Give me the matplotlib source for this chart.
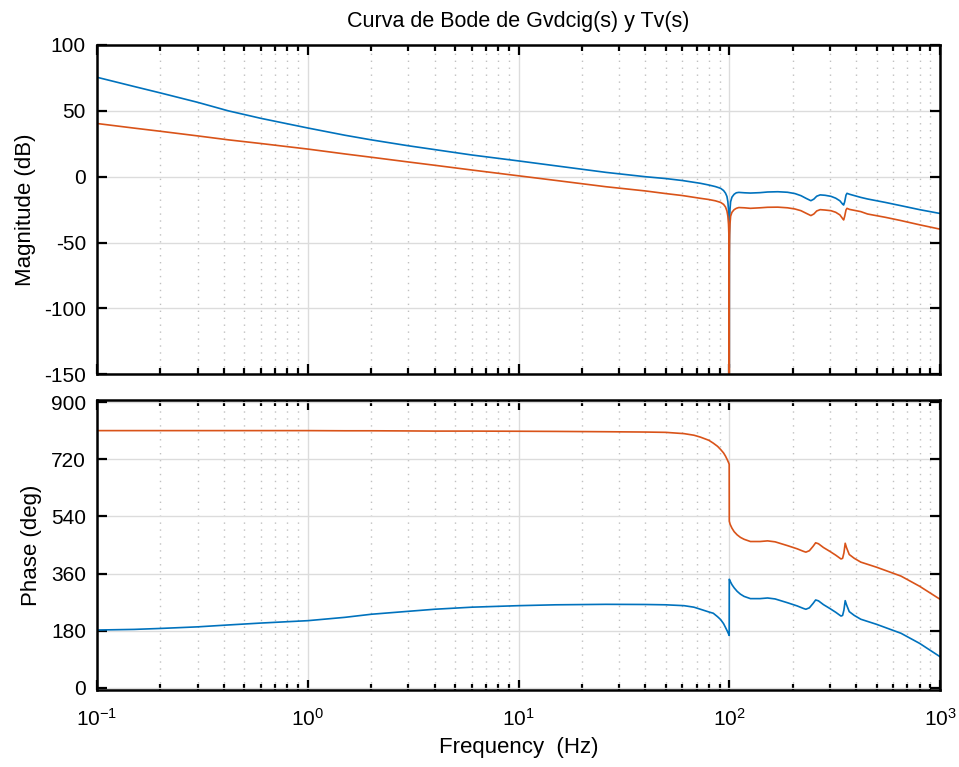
import matplotlib
matplotlib.use("Agg")
import matplotlib.pyplot as plt
import matplotlib.ticker as mticker

plt.rcParams['font.family'] = ['Liberation Sans', 'DejaVu Sans']
plt.rcParams['axes.unicode_minus'] = False

# magnitude (dB)
f_mag = [0.1, 0.15, 0.2, 0.3, 0.42, 0.6, 1, 1.5, 2, 3, 4, 6, 10, 15, 26, 40, 50, 60, 73, 80,
         86, 91, 94, 96, 97.5, 98.5, 99.2, 99.6, 99.85, 100, 100.15, 100.4, 100.8, 101.5, 103,
         105.5, 108, 111, 118, 126, 140, 152, 170, 189, 205, 219, 232, 244, 252, 260, 270,
         285, 304, 320, 335, 345, 349, 353, 358, 362, 372, 421, 453, 550, 653, 800, 1000]
gvd_mag = [75.5, 68.5, 63.6, 56.5, 50, 44.3, 37, 31.5, 28, 23.5, 20.6, 16.5, 12, 8.3, 3.3, 0,
           -1.4, -2.9, -5, -6.3, -7.5, -8.8, -10.5, -12.5, -15, -19, -25, -33, -48, -145, -48,
           -33, -25, -19, -15.5, -13.3, -12.2, -11.9, -12.2, -12.4, -12.1, -11.6, -11.4, -11.8,
           -12.8, -14.4, -16.5, -18.2, -17, -14.8, -13.8, -14.1, -14.9, -16.3, -18.3, -20.8,
           -21.5, -19, -14, -12.6, -13.3, -15.7, -16.9, -19.5, -22, -25, -27.9]
tv_mag = [40.4, 36.9, 34.5, 31, 28, 25.2, 21, 17.3, 14.8, 11.2, 8.7, 5.1, 0.7, -2.8, -7.6, -10.8,
          -12.8, -14.3, -16.4, -17.3, -18.3, -19.5, -21, -23, -26, -30, -36, -44, -60, -160,
          -60, -44, -36, -30, -27, -25, -24, -23.4, -23.6, -24, -23.6, -23.2, -23.1, -23.6,
          -24.5, -25.8, -27.8, -29.5, -28.3, -26, -25, -25.3, -25.8, -27, -29, -31.8, -32.8,
          -30, -25.3, -24, -24.8, -26.5, -28.3, -30.8, -33.3, -36.5, -39.8]

# phase (deg)
f_ph = [0.1, 0.15, 0.2, 0.3, 0.42, 0.6, 1, 1.5, 2, 3, 4, 6, 10, 15, 26, 40, 50, 61, 68, 73, 80,
        84, 88, 91, 94, 96, 98, 99.5, 99.95, 100.05, 101, 103, 105.5, 109, 113, 117.6, 126, 140,
        152, 165, 189, 210, 225, 231, 240, 250, 257, 265, 280, 300, 320, 339, 345, 350, 355, 360,
        371, 392, 421, 500, 653, 800, 1000]
gvd_ph = [182, 184, 187, 192, 198, 204, 211.5, 222, 231.7, 241, 247.5, 254, 258.8, 261.5, 263,
          262.5, 261.5, 258.8, 254, 247.5, 239, 234.9, 224, 215, 202, 190, 178, 168, 165, 342,
          336, 325, 315, 304, 295, 288, 281, 281, 283, 280, 268, 258, 250, 247.5, 252, 266,
          276.8, 274, 262, 250, 238, 226, 228, 245, 274.6, 262, 240, 228, 216, 200, 171.8, 140, 98]
tv_ph = [810.5, 810.5, 810.5, 810.5, 810.5, 810.5, 810.5, 810, 810, 809.5, 809, 809, 808.5, 808,
         807, 806, 805, 801, 796, 790, 780, 771, 761, 751, 740, 730, 718, 708, 704, 525, 515, 503,
         492, 482, 474, 468, 461, 461, 463, 460, 448, 438, 430, 427.5, 432, 446, 457, 454, 442,
         430, 418, 406, 408, 425, 455.5, 442, 420, 408, 396, 380, 352, 320, 279]

blue = '#0072BD'
orange = '#D95319'

fig = plt.figure(figsize=(9.59, 7.67), dpi=100)
ax1 = fig.add_axes([97/959, 1-374.3/767, 843/959, 329.3/767])
ax2 = fig.add_axes([97/959, 1-690/767, 843/959, 290/767])

ax1.semilogx(f_mag, gvd_mag, color=blue, lw=1.2)
ax1.semilogx(f_mag, tv_mag, color=orange, lw=1.2)
ax2.semilogx(f_ph, gvd_ph, color=blue, lw=1.2)
ax2.semilogx(f_ph, tv_ph, color=orange, lw=1.2)

for ax in (ax1, ax2):
    ax.set_xlim(0.1, 1000)
    ax.xaxis.set_major_locator(mticker.LogLocator(base=10, numticks=10))
    ax.xaxis.set_minor_locator(mticker.LogLocator(base=10, subs=range(2, 10), numticks=20))
    ax.grid(True, which='major', color='#dcdcdc', lw=1.0, ls='-')
    ax.grid(True, which='minor', axis='x', color='#c0c0c0', lw=1.0, ls=(0, (1, 4)))
    ax.set_axisbelow(True)
    ax.tick_params(which='both', direction='in', top=True, right=True, labelsize=15, width=1.6)
    ax.tick_params(axis='y', pad=8)
    ax.tick_params(axis='x', pad=13)
    ax.tick_params(which='major', length=7)
    ax.tick_params(which='minor', length=4)
    for s in ax.spines.values():
        s.set_linewidth(1.8)

ax1.set_ylim(-150, 100)
ax1.set_yticks([-150, -100, -50, 0, 50, 100])
ax1.tick_params(labelbottom=False)
ax1.set_ylabel('Magnitude (dB)', fontsize=16, labelpad=6)
ax1.set_title('Curva de Bode de Gvdcig(s) y Tv(s)', fontsize=15.5, pad=13)

ax2.set_ylim(-7, 907)
ax2.set_yticks([0, 180, 360, 540, 720, 900])
ax2.set_ylabel('Phase (deg)', fontsize=16, labelpad=6)
ax2.set_xlabel('Frequency  (Hz)', fontsize=16, labelpad=5)

fig.savefig('out.png', dpi=100)
